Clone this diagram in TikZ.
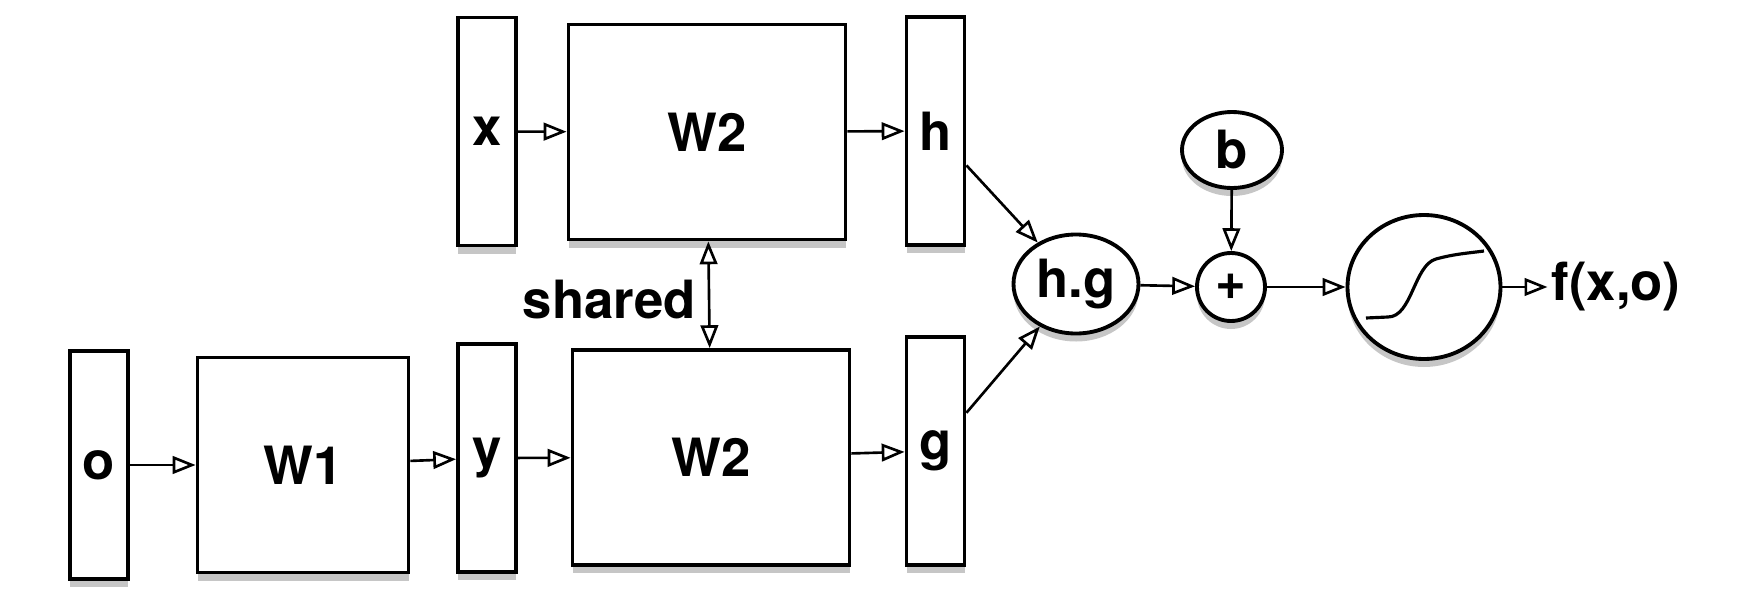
\documentclass[tikz,border=0pt]{standalone}
\usepackage{fontspec}
\setmainfont{TeX Gyre Heros}
\usepackage{tikz}
\usetikzlibrary{arrows.meta, shapes.geometric, shadows, positioning}
\tikzstyle{vec} = [rectangle, draw=black, line width=1.1pt, fill=white, inner sep=0pt, minimum width=0.58cm, minimum height=2.28cm, drop shadow={shadow xshift=0cm, shadow yshift=-0.08cm, opacity=0.45}]
\tikzstyle{weights} = [vec, minimum width=2.77cm, minimum height=2.15cm]
\tikzstyle{op} = [ellipse, draw=black, line width=1.1pt, fill=white, inner sep=0pt, drop shadow={shadow xshift=0cm, shadow yshift=-0.08cm, opacity=0.45}]
\tikzstyle{arrow} = [line width=0.75pt,->,>={Triangle[open,length=6.5pt,width=5pt]}]

\begin{document}
\begin{tikzpicture}[every node/.style={font=\fontsize{15}{18}\selectfont\bfseries}]
    \useasboundingbox (0,0) rectangle (17.48,-6.03);
    % top branch
    \node (x) [vec] at (4.87,-1.315) {x};
    \node (W2top) [weights] at (7.07,-1.32) {W2};
    \node (h) [vec] at (9.355,-1.31) {h};
    % bottom branch
    \node (o) [vec] at (0.99,-4.65) {o};
    \node (W1) [weights, minimum width=2.11cm] at (3.03,-4.65) {W1};
    \node (y) [vec] at (4.87,-4.58) {y};
    \node (W2bot) [weights] at (7.11,-4.575) {W2};
    \node (g) [vec] at (9.355,-4.51) {g};
    % combination
    \node (hg) [op, minimum width=1.25cm, minimum height=0.99cm] at (10.76,-2.84) {h.g};
    \node (b) [op, minimum width=1.0cm, minimum height=0.76cm] at (12.32,-1.50) {b};
    \node (plus) [op, minimum width=0.68cm, minimum height=0.68cm] at (12.31,-2.87) {+};
    \node (sig) [op, minimum width=1.53cm, minimum height=1.44cm] at (14.24,-2.87) {};
    \node (f) [right = 0.45cm of sig, inner sep=1pt] {f(x,o)};
    \draw [line width=0.9pt, shift={(sig)}] (-0.58,-0.31) -- (-0.36,-0.30) .. controls (-0.12,-0.30) and (-0.10,0.22) .. (0.12,0.28) .. controls (0.3,0.33) and (0.45,0.34) .. (0.6,0.36);

    \draw [arrow] (x) -- (W2top);
    \draw [arrow] (W2top) -- (h);
    \draw [arrow] (o) -- (W1);
    \draw [arrow] (W1) -- (y);
    \draw [arrow] (y) -- (W2bot);
    \draw [arrow] (W2bot) -- (g);
    \draw [arrow, <->] (W2top) -- node [left, yshift=-0.05cm] {shared} (W2bot);
    \draw [arrow] (h.-48) -- (hg);
    \draw [arrow] (g.51) -- (hg);
    \draw [arrow] (hg) -- (plus);
    \draw [arrow] (b) -- (plus);
    \draw [arrow] (plus) -- (sig);
    \draw [arrow] (sig) -- (f);
\end{tikzpicture}
\end{document}
